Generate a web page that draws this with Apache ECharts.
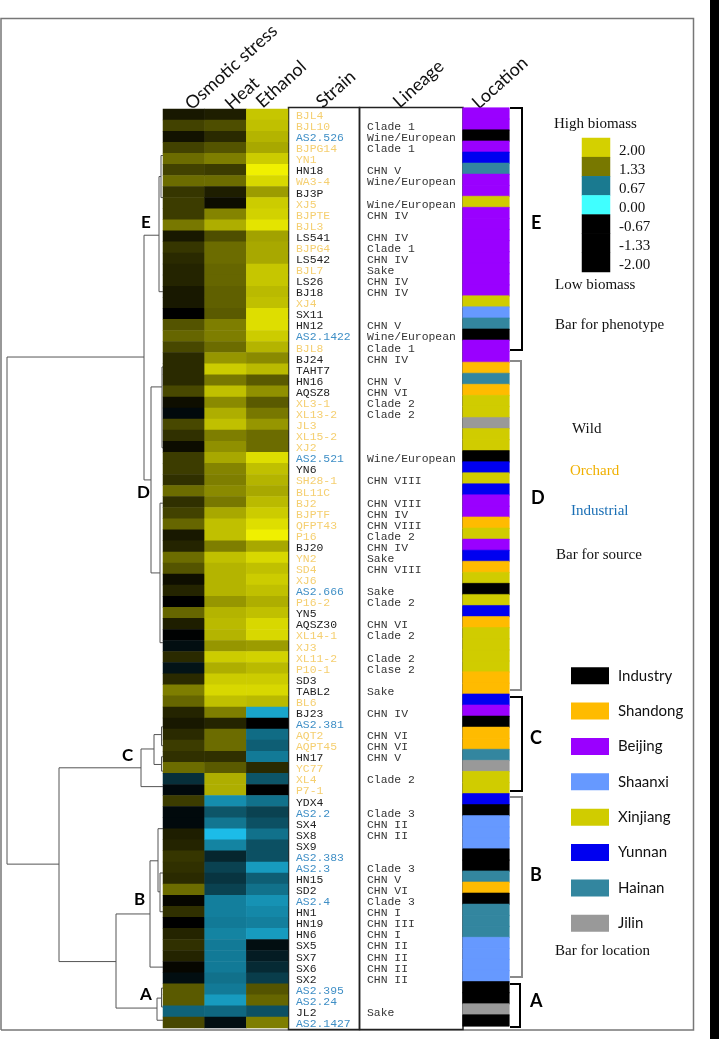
<!DOCTYPE html>
<html>
<head>
<meta charset="utf-8">
<title>Strain phenotype heatmap</title>
<script src="https://cdn.jsdelivr.net/npm/echarts@6/dist/echarts.min.js"></script>
<style>
  html, body { margin: 0; padding: 0; background: #fff; }
  #chart { width: 719px; height: 1039px; }
</style>
</head>
<body>
<div id="chart"></div>
<script>
const traits = ['Osmotic stress', 'Heat', 'Ethanol'];

const strains = ['BJL4','BJL10','AS2.526','BJPG14','YN1','HN18','WA3-4','BJ3P','XJ5','BJPTE','BJL3','LS541','BJPG4','LS542','BJL7','LS26','BJ18','XJ4','SX11','HN12','AS2.1422','BJL8','BJ24','TAHT7','HN16','AQSZ8','XL3-1','XL13-2','JL3','XL15-2','XJ2','AS2.521','YN6','SH28-1','BL11C','BJ2','BJPTF','QFPT43','P16','BJ20','YN2','SD4','XJ6','AS2.666','P16-2','YN5','AQSZ30','XL14-1','XJ3','XL11-2','P10-1','SD3','TABL2','BL6','BJ23','AS2.381','AQT2','AQPT45','HN17','YC77','XL4','P7-1','YDX4','AS2.2','SX4','SX8','SX9','AS2.383','AS2.3','HN15','SD2','AS2.4','HN1','HN19','HN6','SX5','SX7','SX6','SX2','AS2.395','AS2.24','JL2','AS2.1427'];

const orchardStrains = ['BJL4','BJL10','BJPG14','YN1','WA3-4','XJ5','BJPTE','BJL3','BJPG4','BJL7','XJ4','BJL8','XL3-1','XL13-2','JL3','XL15-2','XJ2','SH28-1','BL11C','BJ2','BJPTF','QFPT43','P16','YN2','SD4','XJ6','P16-2','XL14-1','XJ3','XL11-2','P10-1','BL6','AQT2','AQPT45','YC77','XL4','P7-1'];

const lineages = ['','Clade 1','Wine/European','Clade 1','','CHN V','Wine/European','','Wine/European','CHN IV','','CHN IV','Clade 1','CHN IV','Sake','CHN IV','CHN IV','','','CHN V','Wine/European','Clade 1','CHN IV','','CHN V','CHN VI','Clade 2','Clade 2','','','','Wine/European','','CHN VIII','','CHN VIII','CHN IV','CHN VIII','Clade 2','CHN IV','Sake','CHN VIII','','Sake','Clade 2','','CHN VI','Clade 2','','Clade 2','Clase 2','','Sake','','CHN IV','','CHN VI','CHN VI','CHN V','','Clade 2','','','Clade 3','CHN II','CHN II','','','Clade 3','CHN V','CHN VI','Clade 3','CHN I','CHN III','CHN I','CHN II','CHN II','CHN II','CHN II','','','Sake',''];

const osmotic = [.2,.55,.15,.55,.9,.55,.9,.45,.5,.5,1,.2,.45,.35,.3,.3,.2,.2,0,.7,.85,.6,.35,.35,.35,.6,.12,-.1,.6,.4,.1,.5,.5,.4,.9,.4,.55,.85,.2,.3,.9,.7,.12,.3,0,.85,.25,-.02,-.15,.35,-.2,.35,1.05,.85,.3,.2,.35,.5,.4,.9,-.5,-.1,.5,-.1,-.1,.25,.3,.45,.4,.35,.9,.05,.4,0,.3,.4,.3,.05,-.15,.75,.75,-1.05,.6];
const heat = [.25,.65,.35,.7,1.05,.5,.9,.25,.1,1.1,1.45,.65,.9,.9,.85,.85,.8,.8,.75,1.05,1.05,.9,1.25,1.7,1,1.6,1.15,1.45,1.6,1.05,1.2,1.4,1.1,1.05,1.15,1,1.4,1.6,1.6,1.05,1.6,1.5,1.5,1.5,1.25,1.5,1.55,1.5,1.25,1.7,1.45,1.7,1.8,1.6,1.05,.3,.9,.9,.4,.75,1.45,1.45,-1.5,-.9,-1.25,-2,-1.4,-.4,-.7,-.55,-.7,-1.35,-1.35,-1.3,-1.4,-1.3,-1.3,-1.3,-1.2,-1.3,-1.65,-1.1,-.15];
const ethanol = [1.65,1.6,1.5,1.4,1.7,2,1.8,1.3,1.7,1.75,1.9,1.35,1.4,1.4,1.65,1.65,1.55,1.6,1.85,1.85,1.7,1.5,1.15,1.55,.75,1.2,.75,1,1.25,.9,.9,1.85,1.6,1.5,1.4,1.55,1.7,1.85,2,1.4,1.8,1.6,1.7,1.6,1.45,1.6,1.8,1.8,1.3,1.75,1.55,1.7,1.8,1.55,-1.75,0,-1.15,-1,-1.3,.35,-.9,0,-1.2,-.7,-.85,-1.2,-.85,-.85,-1.65,-1,-1.2,-1.55,-1.45,-1.35,-1.65,-.15,-.3,-.45,-.65,.7,.85,-.85,1.05];

const locationNames = ['Industry','Shandong','Beijing','Shaanxi','Xinjiang','Yunnan','Hainan','Jilin'];
const locationColors = ['#000000','#ffbb00','#9a00ff','#6699ff','#d0cc00','#0000f0','#33869f','#999999'];
const locationRows = ['Beijing','Beijing','Industry','Beijing','Yunnan','Hainan','Beijing','Beijing','Xinjiang','Beijing','Beijing','Beijing','Beijing','Beijing','Beijing','Beijing','Beijing','Xinjiang','Shaanxi','Hainan','Industry','Beijing','Beijing','Shandong','Hainan','Shandong','Xinjiang','Xinjiang','Jilin','Xinjiang','Xinjiang','Industry','Yunnan','Xinjiang','Yunnan','Beijing','Beijing','Shandong','Xinjiang','Beijing','Yunnan','Shandong','Xinjiang','Industry','Xinjiang','Yunnan','Shandong','Xinjiang','Xinjiang','Xinjiang','Xinjiang','Shandong','Shandong','Yunnan','Beijing','Industry','Shandong','Shandong','Hainan','Jilin','Xinjiang','Xinjiang','Yunnan','Industry','Shaanxi','Shaanxi','Shaanxi','Industry','Industry','Hainan','Shandong','Industry','Hainan','Hainan','Hainan','Shaanxi','Shaanxi','Shaanxi','Shaanxi','Industry','Industry','Jilin','Industry'];

// dendrogram merges: distance, top row, bottom row, distance of top child, distance of bottom child
const merges = [
  [156, 22.4, 68.2, 19, 104],
  [19, 11.4, 33.5, 4, 12],
  [4, 6.1, 16.5, 2, 0],
  [2, 4.2, 8.0, 0, 0],
  [12, 25.1, 41.9, 1, 3],
  [1, 23.3, 30.6, 0, 0],
  [3, 35.6, 48.2, 0, 0],
  [104, 59.5, 77, 22, 47],
  [22, 57.8, 61.2, 9, 0],
  [9, 56.5, 59.2, 1.5, 1.5],
  [1.5, 55.8, 57.5, 0, 0],
  [1.5, 58.5, 59.8, 0, 0],
  [47, 72.7, 81.2, 13, 6],
  [13, 67.9, 77.5, 5, 0],
  [5, 65, 70.7, 0, 3],
  [3, 69, 72.5, 0, 0],
  [6, 80.3, 82.3, 1.5, 0],
  [1.5, 79.4, 81.1, 0, 0]
];

const scaleLabels = ['2.00','1.33','0.67','0.00','-0.67','-1.33','-2.00'];
const scaleColors = ['#d4d000','#787800','#1a7a90','#40ffff','#000000','#000000','#000000'];

const orchardColor = '#f5cf70';
const industrialColor = '#3f8fc6';
const wildColor = '#222222';

const sourceColor = name => {
  if (name.indexOf('AS2.') === 0) return industrialColor;
  return orchardStrains.indexOf(name) >= 0 ? orchardColor : wildColor;
};

const heatData = [];
[osmotic, heat, ethanol].forEach((col, c) => {
  col.forEach((v, r) => heatData.push([c, r, v]));
});

const hiddenCat = (grid, data, extra) => Object.assign({
  type: 'category', gridIndex: grid, data: data,
  axisLine: { show: false }, axisTick: { show: false }, axisLabel: { show: false }, splitLine: { show: false }
}, extra || {});

const rowLabels = {
  show: true, inside: true, interval: 0, align: 'left', margin: 7,
  fontFamily: '"Liberation Mono"', fontSize: 11.4, color: '#333'
};

// rotated column heads
const headers = [
  { text: 'Osmotic stress', x: 194, y: 113 },
  { text: 'Heat', x: 234, y: 113 },
  { text: 'Ethanol', x: 265, y: 111 },
  { text: 'Strain', x: 325, y: 111 },
  { text: 'Lineage', x: 402, y: 111 },
  { text: 'Location', x: 481, y: 112 }
];
const serifNotes = [
  ['High biomass', 554, 124], ['Low biomass', 555, 285], ['Bar for phenotype', 555, 325],
  ['Wild', 572, 429], ['Orchard', 570, 471], ['Industrial', 571, 511],
  ['Bar for source', 556, 555], ['Bar for location', 555, 951]
];
const noteColors = { Orchard: '#f0b000', Industrial: '#1a6fb5' };
const clusterLetters = [
  ['E', 141, 223, 17], ['D', 137, 493, 17], ['C', 122, 756, 17], ['B', 134, 900, 17], ['A', 140, 995, 17],
  ['E', 531, 223, 18], ['D', 531, 498, 18], ['C', 530, 738, 18], ['B', 530, 875, 18], ['A', 530, 1001, 18]
];
const brackets = [
  [108, 350, 522, '#000'], [361, 690, 521, '#8a8a8a'], [697, 791, 522, '#000'],
  [797, 977, 522, '#8a8a8a'], [984, 1027, 520, '#000']
];

const graphics = [
  { type: 'polyline', shape: { points: [[1, 1030], [1, 18.5], [693.5, 18.5], [693.5, 1030], [1, 1030]] }, style: { fill: null, stroke: '#777', lineWidth: 1.5 } },
  { type: 'rect', shape: { x: 710, y: 0, width: 9, height: 1039 }, style: { fill: '#000' } },
  { type: 'rect', shape: { x: 288.5, y: 107.5, width: 71, height: 922 }, style: { fill: null, stroke: '#222', lineWidth: 1.5 } },
  { type: 'rect', shape: { x: 359.5, y: 107.5, width: 103.5, height: 922 }, style: { fill: null, stroke: '#222', lineWidth: 1.5 } }
];
headers.forEach(h => graphics.push({
  type: 'text', x: h.x, y: h.y, rotation: 42 * Math.PI / 180,
  style: { text: h.text, fontFamily: 'Lato', fontSize: 18, fill: '#111', textVerticalAlign: 'bottom' }
}));
serifNotes.forEach(n => graphics.push({
  type: 'text', x: n[1], y: n[2],
  style: { text: n[0], fontFamily: '"Liberation Serif"', fontSize: 15, fill: noteColors[n[0]] || '#111', textVerticalAlign: 'middle' }
}));
clusterLetters.forEach(l => graphics.push({
  type: 'text', x: l[1], y: l[2],
  style: { text: l[0], fontFamily: 'Lato', fontWeight: 'bold', fontSize: l[3], fill: '#000', textVerticalAlign: 'middle' }
}));
brackets.forEach(b => graphics.push({
  type: 'polyline', shape: { points: [[510, b[0]], [b[2], b[0]], [b[2], b[1]], [510, b[1]]] },
  style: { fill: null, stroke: b[3], lineWidth: 2 }
}));

const option = {
  animation: false,
  backgroundColor: '#fff',
  grid: [
    { left: 163, top: 109, width: 125, height: 919 },
    { left: 289, top: 110.5, width: 70, height: 919 },
    { left: 360, top: 110.5, width: 103, height: 919 },
    { left: 463, top: 108, width: 46, height: 918 },
    { left: 0, top: 109, width: 163, height: 919 },
    { left: 582, top: 138, width: 28, height: 134 },
    { left: 571, top: 658, width: 38, height: 283 },
    { left: 582, top: 141, width: 28, height: 134 }
  ],
  xAxis: [
    hiddenCat(0, traits),
    hiddenCat(1, ['Strain']),
    hiddenCat(2, ['Lineage']),
    hiddenCat(3, ['Location']),
    { type: 'value', gridIndex: 4, inverse: true, min: 0, max: 163, show: false },
    hiddenCat(5, ['scale']),
    hiddenCat(6, ['swatch']),
    hiddenCat(7, ['scale'])
  ],
  yAxis: [
    hiddenCat(0, strains, { inverse: true }),
    hiddenCat(1, strains.map(s => ({ value: s, textStyle: { color: sourceColor(s) } })), { inverse: true, axisLabel: rowLabels }),
    hiddenCat(2, lineages.map((s, i) => ({ value: s || ' '.repeat(i + 1) })), { inverse: true, axisLabel: rowLabels }),
    hiddenCat(3, strains, { inverse: true }),
    { type: 'value', gridIndex: 4, inverse: true, min: 0, max: 83, show: false },
    hiddenCat(5, scaleLabels, { inverse: true }),
    hiddenCat(6, locationNames, {
      inverse: true, position: 'right',
      axisLabel: { show: true, interval: 0, margin: 9, fontFamily: 'Lato', fontSize: 15, color: '#111' }
    }),
    hiddenCat(7, scaleLabels, {
      inverse: true, position: 'right',
      axisLabel: { show: true, interval: 0, margin: 9, fontFamily: '"Liberation Serif"', fontSize: 15, color: '#111' }
    })
  ],
  visualMap: {
    show: false, seriesIndex: 0, dimension: 2, min: -2, max: 2,
    inRange: { color: ['#1cbce8', '#000000', '#f0f000'] }
  },
  series: [
    { type: 'heatmap', xAxisIndex: 0, yAxisIndex: 0, data: heatData },
    {
      type: 'heatmap', xAxisIndex: 3, yAxisIndex: 3,
      data: locationRows.map((loc, r) => {
        const k = locationNames.indexOf(loc);
        const color = locationColors[k];
        return { name: loc, value: [0, r, k], itemStyle: { color: color, borderColor: color, borderWidth: 0.6 } };
      })
    },
    {
      type: 'custom', xAxisIndex: 4, yAxisIndex: 4, data: merges, silent: true,
      renderItem(params, api) {
        const h = api.value(0), top = api.value(1), bottom = api.value(2);
        const pts = [[api.value(3), top], [h, top], [h, bottom], [api.value(4), bottom]].map(p => api.coord(p));
        return { type: 'polyline', shape: { points: pts }, style: { fill: null, stroke: '#555', lineWidth: 1 } };
      },
      encode: { x: 0, y: 1 }
    },
    {
      type: 'heatmap', xAxisIndex: 5, yAxisIndex: 5,
      data: scaleLabels.map((s, r) => ({ value: [0, r, s], itemStyle: { color: scaleColors[r] } }))
    },
    {
      type: 'scatter', xAxisIndex: 6, yAxisIndex: 6, symbol: 'rect', symbolSize: [38, 17],
      data: locationNames.map((n, r) => ({ value: [0, r], itemStyle: { color: locationColors[r], opacity: 1 } }))
    }
  ],
  graphic: graphics
};

const myChart = echarts.init(document.getElementById('chart'));
myChart.setOption(option);
</script>
</body>
</html>
